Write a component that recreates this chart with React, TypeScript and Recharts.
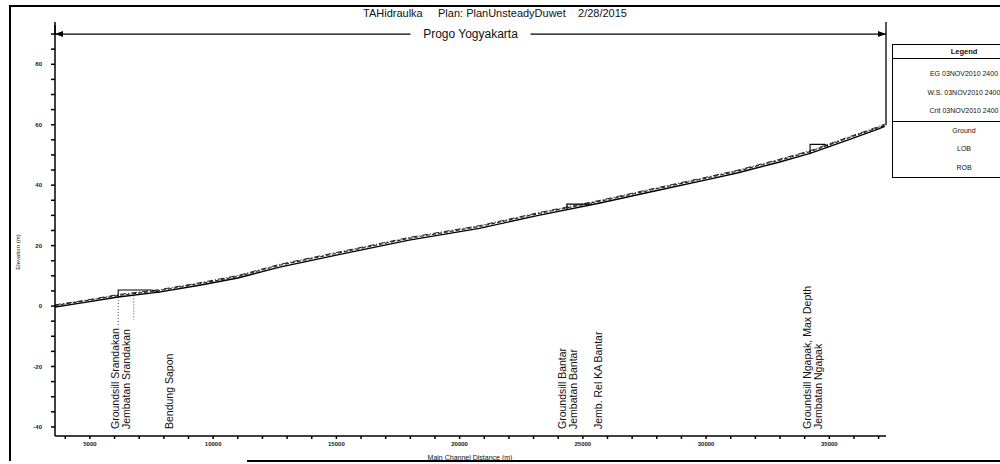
import React from "react";
import { LineChart, Line, XAxis, YAxis, ReferenceLine } from "recharts";

// main channel profile (station in m, elevation in m)
const stations = [3583, 4800, 6147, 7800, 9450, 11000, 12700, 15100, 17950, 20800, 23200, 25650, 28100, 30100, 31300, 32950, 34220, 35770, 37000, 37250];
const groundElev = [-0.3, 1.2, 3.0, 4.6, 6.9, 9.3, 12.9, 17.0, 21.8, 25.7, 30.0, 34.0, 38.4, 41.9, 44.1, 47.6, 50.5, 55.0, 58.6, 59.5];
const wsElev = [0.2, 1.7, 3.5, 5.1, 7.4, 9.8, 13.5, 17.6, 22.4, 26.3, 30.6, 34.6, 39.0, 42.5, 44.7, 48.2, 51.1, 55.6, 59.1, 59.9];
const egElev = [0.4, 1.9, 3.8, 5.4, 7.7, 10.1, 13.8, 17.9, 22.7, 26.6, 30.9, 34.9, 39.3, 42.8, 45.0, 48.5, 51.4, 55.9, 59.4, 60.2];

// structures drawn on the profile
const srandakanSta = [6147, 6147, 7510, 7835];
const srandakanElev = [3.0, 5.3, 5.3, 4.5];
const bantarSta = [24354, 24354, 25370];
const bantarElev = [31.9, 33.7, 33.7];
const ngapakSta = [34220, 34220, 34830, 34990];
const ngapakElev = [50.5, 53.5, 53.5, 52.6];

// cross section labels
const labelStations = [6174, 6620, 8381, 24314, 24780, 25792, 34254, 34700];
const labelNames = [
  "Groundsill Srandakan",
  "Jembatan Srandakan",
  "Bendung Sapon",
  "Groundsill Bantar",
  "Jembatan Bantar",
  "Jemb. Rel KA Bantar",
  "Groundsill Ngapak, Max Depth",
  "Jembatan Ngapak",
];

const xTicks = [4000, 5000, 6000, 7000, 8000, 9000, 10000, 11000, 12000, 13000, 14000, 15000, 16000, 17000, 18000, 19000, 20000, 21000, 22000, 23000, 24000, 25000, 26000, 27000, 28000, 29000, 30000, 31000, 32000, 33000, 34000, 35000, 36000, 37000];
const yTicks = [-40, -35, -30, -25, -20, -15, -10, -5, 0, 5, 10, 15, 20, 25, 30, 35, 40, 45, 50, 55, 60, 65, 70, 75, 80, 85, 90];

const legendRunRows = ["EG 03NOV2010 2400", "W.S. 03NOV2010 2400", "Crit 03NOV2010 2400"];
const legendGeomRows = ["Ground", "LOB", "ROB"];

const font = "'Liberation Sans', Arial, sans-serif";

const profileRows = stations.map((x, i) => ({ x, ground: groundElev[i], ws: wsElev[i], eg: egElev[i] }));
const toPts = (s: number[], e: number[]) => s.map((x, i) => ({ x, y: e[i] }));

const StationLabel = (props: any) => {
  const { viewBox, value } = props;
  const x = viewBox.x;
  const y = viewBox.y + viewBox.height - 7;
  return (
    <text x={x} y={y} transform={`rotate(-90 ${x} ${y})`} fontSize={10.5} fontFamily={font} fill="#111">
      {value}
    </text>
  );
};

const ReachLabel = (props: any) => {
  const { x, y, width } = props.viewBox;
  const cx = x + width / 2;
  return (
    <g>
      <rect x={cx - 60} y={y - 7} width={120} height={14} fill="#fff" />
      <text x={cx} y={y + 4} textAnchor="middle" fontSize={12} fontFamily={font} fill="#111">
        Progo Yogyakarta
      </text>
      <path d={`M${x} ${y} l8 -3 v6 z`} fill="#000" />
      <path d={`M${x + width} ${y} l-8 -3 v6 z`} fill="#000" />
    </g>
  );
};

export default function App() {
  return (
    <div style={{ position: "absolute", left: 0, top: 0, width: 1000, height: 464, overflow: "hidden", background: "#fff", fontFamily: font }}>
      {/* frame */}
      <div style={{ position: "absolute", left: 9, top: 5, width: 2, height: 456, background: "#000" }} />
      <div style={{ position: "absolute", left: 9, top: 5, width: 991, height: 1.5, background: "#000" }} />
      <div style={{ position: "absolute", left: 247, top: 460, width: 753, height: 1.5, background: "#000" }} />

      {/* title */}
      <div style={{ position: "absolute", left: 363, top: 7, fontSize: 11, color: "#111", whiteSpace: "pre" }}>
        TAHidraulka{"     "}Plan: PlanUnsteadyDuwet{"    "}2/28/2015
      </div>

      <LineChart width={1000} height={464} data={profileRows} margin={{ top: 25, right: 114, bottom: 8, left: 25 }}>
        <XAxis
          type="number"
          dataKey="x"
          domain={[3583, 37300]}
          ticks={xTicks}
          interval={0}
          tickFormatter={(v: number) => (v % 5000 === 0 ? String(v) : "")}
          tick={{ fontSize: 6, fontWeight: 700, fill: "#222", fontFamily: font }}
          tickSize={3}
          tickMargin={3}
          height={20}
          stroke="#000"
          strokeWidth={1.5}
          allowDataOverflow
        />
        <YAxis
          type="number"
          domain={[-43, 93]}
          ticks={yTicks}
          interval={0}
          tickFormatter={(v: number) => (v % 20 === 0 && v <= 80 ? String(v) : "")}
          tick={{ fontSize: 6, fontWeight: 700, fill: "#222", fontFamily: font }}
          tickSize={4}
          tickMargin={9}
          width={30}
          stroke="#000"
          strokeWidth={1.5}
          allowDataOverflow
        />

        {/* reach arrow */}
        <ReferenceLine
          segment={[{ x: 3583, y: 90 }, { x: 37300, y: 90 }]}
          stroke="#000"
          strokeWidth={1.3}
          ifOverflow="visible"
          label={<ReachLabel />}
        />
        <ReferenceLine segment={[{ x: 37300, y: 94 }, { x: 37300, y: 59.8 }]} stroke="#000" strokeWidth={1.3} ifOverflow="visible" />
        <ReferenceLine segment={[{ x: 3583, y: 94 }, { x: 3583, y: 90 }]} stroke="#000" strokeWidth={1.5} ifOverflow="visible" />

        {/* dotted drop lines at Srandakan */}
        <ReferenceLine segment={[{ x: 6147, y: 3.0 }, { x: 6147, y: -6.3 }]} stroke="#444" strokeDasharray="1 2" />
        <ReferenceLine segment={[{ x: 6780, y: 3.5 }, { x: 6780, y: -4.6 }]} stroke="#444" strokeDasharray="1 2" />

        {labelStations.map((s, i) => (
          <ReferenceLine key={s} x={s} stroke="none" label={<StationLabel value={labelNames[i]} />} />
        ))}

        <Line type="linear" dataKey="eg" stroke="#222" strokeWidth={1} strokeDasharray="6 2 1 2" dot={false} isAnimationActive={false} />
        <Line type="linear" dataKey="ws" stroke="#222" strokeWidth={1.1} strokeDasharray="4 2" dot={false} isAnimationActive={false} />
        <Line type="linear" dataKey="ground" stroke="#000" strokeWidth={1.4} dot={false} isAnimationActive={false} />

        <Line data={toPts(srandakanSta, srandakanElev)} type="linear" dataKey="y" stroke="#000" strokeWidth={1.1} dot={false} isAnimationActive={false} />
        <Line data={toPts(bantarSta, bantarElev)} type="linear" dataKey="y" stroke="#000" strokeWidth={1.3} dot={false} isAnimationActive={false} />
        <Line data={toPts(ngapakSta, ngapakElev)} type="linear" dataKey="y" stroke="#000" strokeWidth={1.1} dot={false} isAnimationActive={false} />
      </LineChart>

      {/* axis titles */}
      <div
        style={{
          position: "absolute",
          left: 18,
          top: 252,
          fontSize: 6,
          color: "#111",
          whiteSpace: "nowrap",
          transform: "translate(-50%, -50%) rotate(-90deg)",
        }}
      >
        Elevation (m)
      </div>
      <div style={{ position: "absolute", left: 470, top: 454, fontSize: 7, color: "#111", whiteSpace: "nowrap", transform: "translateX(-50%)" }}>
        Main Channel Distance (m)
      </div>

      {/* legend */}
      <div style={{ position: "absolute", left: 892, top: 44, width: 142, border: "1.5px solid #000", background: "#fff", fontSize: 7, color: "#111", textAlign: "center" }}>
        <div style={{ height: 13, lineHeight: "13px", fontWeight: 700, fontSize: 7.5, borderBottom: "1.5px solid #000" }}>Legend</div>
        <div style={{ paddingTop: 6, borderBottom: "1.5px solid #000" }}>
          {legendRunRows.map((t) => (
            <div key={t} style={{ height: 18.5, lineHeight: "18px" }}>{t}</div>
          ))}
        </div>
        <div>
          {legendGeomRows.map((t) => (
            <div key={t} style={{ height: 18.5, lineHeight: "18px" }}>{t}</div>
          ))}
        </div>
      </div>
    </div>
  );
}
